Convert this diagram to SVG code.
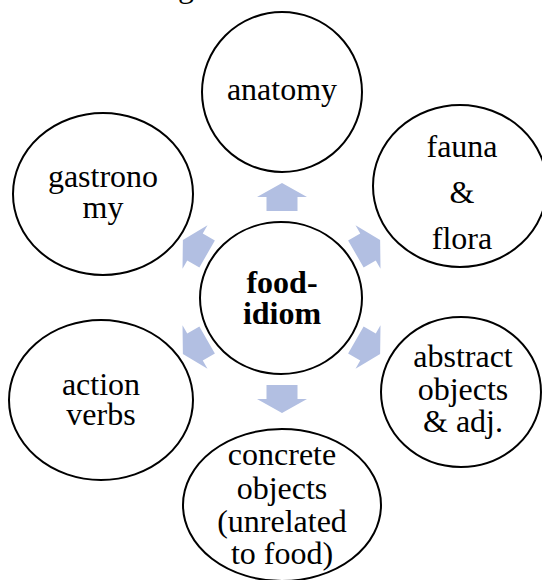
<svg xmlns="http://www.w3.org/2000/svg" width="542" height="580" viewBox="0 0 542 580">
<defs>
<style>
.node ellipse{fill:#fff;stroke:#000;stroke-width:2}
.t{font-family:"Liberation Serif","Times New Roman",serif;font-size:32px;fill:#000;text-anchor:middle}
.b{font-weight:bold}
.arr{fill:#b2bfe2;stroke:none}
</style>
<polygon id="arrow" points="0,-14 25,0 15.5,0 15.5,14 -15.5,14 -15.5,0 -25,0"/>
</defs>
<rect width="542" height="580" fill="#fff"/>
<text class="t" x="186" y="-3">g</text>
<g id="connectors" class="arr">
<use href="#arrow" transform="translate(282,197)"/>
<use href="#arrow" transform="translate(368,247) rotate(60)"/>
<use href="#arrow" transform="translate(368,347) rotate(120)"/>
<use href="#arrow" transform="translate(282,399) rotate(180)"/>
<use href="#arrow" transform="translate(195,347) rotate(240)"/>
<use href="#arrow" transform="translate(195,247) rotate(300)"/>
</g>
<g id="center" class="node">
<ellipse cx="281" cy="298" rx="81" ry="76"/>
<text class="t b" x="282" y="293">food-</text>
<text class="t b" x="282" y="324">idiom</text>
</g>
<g id="anatomy" class="node">
<ellipse cx="282" cy="92" rx="80" ry="80"/>
<text class="t" x="282" y="100">anatomy</text>
</g>
<g id="fauna" class="node">
<ellipse cx="460" cy="186" rx="87" ry="81"/>
<text class="t" x="462" y="157">fauna</text>
<text class="t" x="462" y="203">&amp;</text>
<text class="t" x="462" y="249">flora</text>
</g>
<g id="abstract" class="node">
<ellipse cx="461" cy="392" rx="80" ry="75"/>
<text class="t" x="463" y="367">abstract</text>
<text class="t" x="463" y="400">objects</text>
<text class="t" x="463" y="432">&amp; adj.</text>
</g>
<g id="concrete" class="node">
<ellipse cx="282" cy="505" rx="99" ry="76"/>
<text class="t" x="282" y="465">concrete</text>
<text class="t" x="282" y="499">objects</text>
<text class="t" x="282" y="532">(unrelated</text>
<text class="t" x="282" y="564">to food)</text>
</g>
<g id="action" class="node">
<ellipse cx="101" cy="400" rx="92" ry="80"/>
<text class="t" x="101" y="395">action</text>
<text class="t" x="101" y="425">verbs</text>
</g>
<g id="gastronomy" class="node">
<ellipse cx="103" cy="194" rx="90" ry="81"/>
<text class="t" x="103" y="187">gastrono</text>
<text class="t" x="103" y="218">my</text>
</g>
</svg>
